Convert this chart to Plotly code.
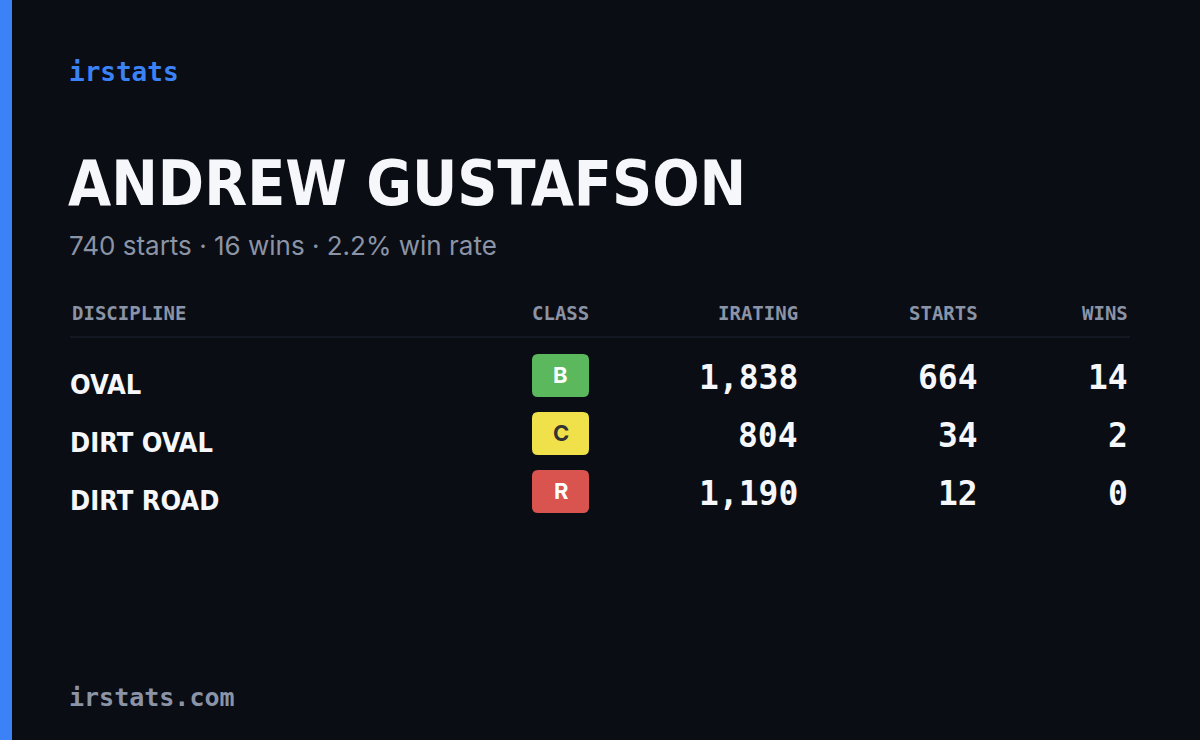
import plotly.graph_objects as go

brand = "irstats"
driver = "ANDREW GUSTAFSON"
summary = "740 starts · 16 wins · 2.2% win rate"
footer = "irstats.com"

headers = ["DISCIPLINE", "CLASS", "IRATING", "STARTS", "WINS"]
disciplines = ["OVAL", "DIRT OVAL", "DIRT ROAD"]
classes = ["B", "C", "R"]
iratings = [1838, 804, 1190]
starts = [664, 34, 12]
wins = [14, 2, 0]

class_colors = {"B": "#5cb85c", "C": "#f0e14a", "R": "#d9534f"}
class_text = {"B": "#ffffff", "C": "#333333", "R": "#ffffff"}

bg = "#0a0d14"
mono = "DejaVu Sans Mono"
cond = "DejaVu Sans Condensed"

fig = go.Figure()
ann = []
shapes = [
    dict(type="rect", x0=0, x1=12, y0=0, y1=740, fillcolor="#3b82f6", line_width=0),
    dict(type="line", x0=70, x1=1130, y0=337, y1=337, line=dict(color="#1f2430", width=1)),
]


def txt(x, y, s, size, color, font, anchor="left", bold=False):
    ann.append(dict(
        x=x, y=y, text=f"<b>{s}</b>" if bold else s, showarrow=False,
        xanchor=anchor, yanchor="middle",
        font=dict(size=size, color=color, family=font),
    ))


txt(67, 72, brand, 26, "#3b82f6", mono, bold=True)
txt(66, 183, driver, 62, "#f5f7fa", cond, bold=True)
txt(67, 245, summary, 26, "#8a94a6", "Inter")
txt(67, 697, footer, 25, "#8a94a6", mono, bold=True)

header_x = [70, 560, 800, 980, 1130]
header_anchor = ["left", "center", "right", "right", "right"]
for h, x, a in zip(headers, header_x, header_anchor):
    txt(x, 313, h, 19, "#8a94a6", mono, a, bold=True)

for i, d in enumerate(disciplines):
    y = 377 + 58 * i
    txt(68, y + 7, d, 27, "#f5f7fa", cond, bold=True)
    c = classes[i]
    x0, x1, y0, y1, r = 532, 589, y - 23, y + 20, 6
    shapes.append(dict(
        type="path",
        path=(f"M{x0+r},{y0} L{x1-r},{y0} Q{x1},{y0} {x1},{y0+r} L{x1},{y1-r} "
              f"Q{x1},{y1} {x1-r},{y1} L{x0+r},{y1} Q{x0},{y1} {x0},{y1-r} "
              f"L{x0},{y0+r} Q{x0},{y0} {x0+r},{y0} Z"),
        fillcolor=class_colors[c], line_width=0,
    ))
    txt(560.5, y - 2, c, 22, class_text[c], "Inter", "center", bold=True)
    txt(800, y, f"{iratings[i]:,}", 33, "#f5f7fa", mono, "right", bold=True)
    txt(980, y, f"{starts[i]:,}", 33, "#f5f7fa", mono, "right", bold=True)
    txt(1130, y, f"{wins[i]:,}", 33, "#f5f7fa", mono, "right", bold=True)

fig.update_layout(
    width=1200, height=740, margin=dict(l=0, r=0, t=0, b=0),
    paper_bgcolor=bg, plot_bgcolor=bg, showlegend=False,
    annotations=ann, shapes=shapes,
    xaxis=dict(range=[0, 1200], visible=False, fixedrange=True),
    yaxis=dict(range=[740, 0], visible=False, fixedrange=True),
)
fig.write_html(
    "out.html",
    config={"displayModeBar": False},
    post_script="document.body.style.margin='0';document.body.style.background='#0a0d14';",
)
